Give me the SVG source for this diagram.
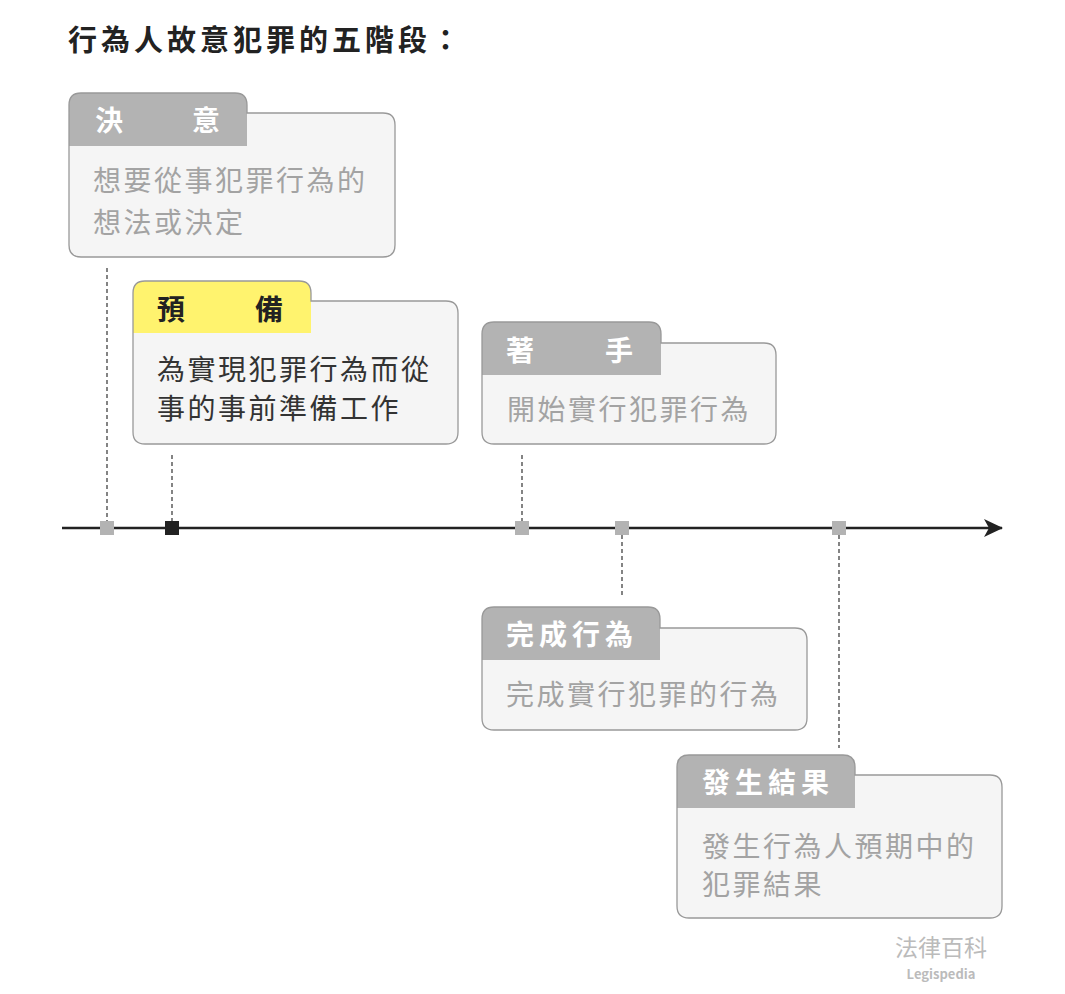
<svg xmlns="http://www.w3.org/2000/svg" width="1065" height="994" viewBox="0 0 1065 994">
<style>
text{font-family:"Noto Sans CJK TC","Noto Sans CJK SC",sans-serif}
.title{font-size:29px;font-weight:bold;fill:#222;letter-spacing:4px}
.tab{font-size:28px;font-weight:bold;fill:#fff;letter-spacing:5px}
.tabd{fill:#222}
.body{font-size:28px;fill:#a3a3a3;letter-spacing:2.5px}
.bodyd{fill:#333}
.box{fill:#f5f5f5;stroke:none}
.outline{fill:none;stroke:#999;stroke-width:1.3}
.tg{fill:#b3b3b3}
.ty{fill:#fff36e}
.dash{stroke:#333;stroke-width:1.2;stroke-dasharray:4 3;fill:none}
.mk{fill:#b3b3b3}
.mkd{fill:#222}
</style>
<defs>
<marker id="arrow" viewBox="0 0 20 20" refX="18" refY="10" markerWidth="20" markerHeight="20" markerUnits="userSpaceOnUse" orient="auto">
<path d="M0,1 L19,10 L0,19 L5,10 Z" fill="#222"/>
</marker>
</defs>
<rect width="1065" height="994" fill="#fff"/>
<text class="title" x="68" y="51">行為人故意犯罪的五階段：</text>

<g id="connectors">
<line x1="62" y1="528" x2="1002" y2="528" stroke="#222" stroke-width="2.5" marker-end="url(#arrow)"/>
<line class="dash" x1="107" y1="268" x2="107" y2="521"/>
<line class="dash" x1="172" y1="455" x2="172" y2="521"/>
<line class="dash" x1="522" y1="455" x2="522" y2="521"/>
<line class="dash" x1="622" y1="535" x2="622" y2="598"/>
<line class="dash" x1="839" y1="535" x2="839" y2="748"/>
<rect class="mk" x="100" y="521" width="14" height="14"/>
<rect class="mkd" x="165" y="521" width="14" height="14"/>
<rect class="mk" x="515" y="521" width="14" height="14"/>
<rect class="mk" x="615" y="521" width="14" height="14"/>
<rect class="mk" x="832" y="521" width="14" height="14"/>
</g>

<g id="node-decision">
<path class="box" d="M69,105 Q69,93 81,93 H235 Q247,93 247,105 V113 H383 Q395,113 395,125 V245 Q395,257 383,257 H81 Q69,257 69,245 Z"/>
<path class="tg" d="M69,146 V105 Q69,93 81,93 H235 Q247,93 247,105 V146 Z"/>
<path class="outline" d="M69,105 Q69,93 81,93 H235 Q247,93 247,105 V113 H383 Q395,113 395,125 V245 Q395,257 383,257 H81 Q69,257 69,245 Z"/>
<text class="tab" x="95" y="131">決</text>
<text class="tab" x="192" y="131">意</text>
<text class="body" x="93" y="191">想要從事犯罪行為的</text>
<text class="body" x="93" y="233">想法或決定</text>
</g>

<g id="node-preparation">
<path class="box" d="M133,293 Q133,281 145,281 H299 Q311,281 311,293 V301 H446 Q458,301 458,313 V432 Q458,444 446,444 H145 Q133,444 133,432 Z"/>
<path class="ty" d="M133,333 V293 Q133,281 145,281 H299 Q311,281 311,293 V333 Z"/>
<path class="outline" d="M133,293 Q133,281 145,281 H299 Q311,281 311,293 V301 H446 Q458,301 458,313 V432 Q458,444 446,444 H145 Q133,444 133,432 Z"/>
<text class="tab tabd" x="157" y="320">預</text>
<text class="tab tabd" x="255" y="320">備</text>
<text class="body bodyd" x="157" y="380">為實現犯罪行為而從</text>
<text class="body bodyd" x="157" y="419">事的事前準備工作</text>
</g>

<g id="node-attempt">
<path class="box" d="M482,334 Q482,322 494,322 H649 Q661,322 661,334 V343 H764 Q776,343 776,355 V432 Q776,444 764,444 H494 Q482,444 482,432 Z"/>
<path class="tg" d="M482,375 V334 Q482,322 494,322 H649 Q661,322 661,334 V375 Z"/>
<path class="outline" d="M482,334 Q482,322 494,322 H649 Q661,322 661,334 V343 H764 Q776,343 776,355 V432 Q776,444 764,444 H494 Q482,444 482,432 Z"/>
<text class="tab" x="506" y="361">著</text>
<text class="tab" x="605" y="361">手</text>
<text class="body" x="507" y="420">開始實行犯罪行為</text>
</g>

<g id="node-complete">
<path class="box" d="M482,619 Q482,607 494,607 H648 Q660,607 660,619 V628 H795 Q807,628 807,640 V718 Q807,730 795,730 H494 Q482,730 482,718 Z"/>
<path class="tg" d="M482,660 V619 Q482,607 494,607 H648 Q660,607 660,619 V660 Z"/>
<path class="outline" d="M482,619 Q482,607 494,607 H648 Q660,607 660,619 V628 H795 Q807,628 807,640 V718 Q807,730 795,730 H494 Q482,730 482,718 Z"/>
<text class="tab" x="506" y="645">完成行為</text>
<text class="body" x="506" y="705">完成實行犯罪的行為</text>
</g>

<g id="node-result">
<path class="box" d="M677,767 Q677,755 689,755 H843 Q855,755 855,767 V775 H990 Q1002,775 1002,787 V906 Q1002,918 990,918 H689 Q677,918 677,906 Z"/>
<path class="tg" d="M677,808 V767 Q677,755 689,755 H843 Q855,755 855,767 V808 Z"/>
<path class="outline" d="M677,767 Q677,755 689,755 H843 Q855,755 855,767 V775 H990 Q1002,775 1002,787 V906 Q1002,918 990,918 H689 Q677,918 677,906 Z"/>
<text class="tab" x="702" y="793">發生結果</text>
<text class="body" x="702" y="857">發生行為人預期中的</text>
<text class="body" x="702" y="895">犯罪結果</text>
</g>

<g id="footer">
<text x="941" y="956" text-anchor="middle" font-size="23" fill="#bbb">法律百科</text>
<text x="941" y="979" text-anchor="middle" font-size="13" font-weight="bold" fill="#bbb" font-family="'Open Sans',sans-serif">Legispedia</text>
</g>
</svg>
